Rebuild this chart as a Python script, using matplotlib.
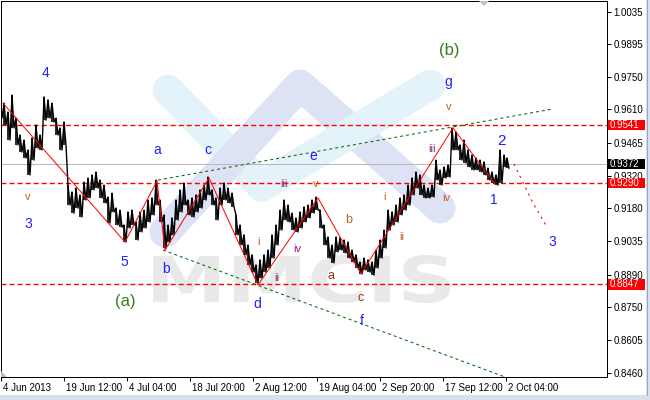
import matplotlib
matplotlib.use('Agg')
import matplotlib.pyplot as plt
import matplotlib.transforms as mtransforms
from matplotlib.patches import Rectangle, Polygon, PathPatch
from matplotlib.textpath import TextPath
from matplotlib.font_manager import FontProperties

plt.rcParams['font.family'] = ['Liberation Sans', 'DejaVu Sans']

# H4 bars, one bar per pixel column (sampled every 4 bars): high / low
bar_x = [0, 4, 8, 12, 16, 20, 24, 28, 32, 36, 40, 44, 48, 52, 56, 60, 64, 68, 72, 76,
         80, 84, 88, 92, 96, 100, 104, 108, 112, 116, 120, 124, 128, 132, 136, 140, 144, 148, 152, 156,
         160, 164, 168, 172, 176, 180, 184, 188, 192, 196, 200, 204, 208, 212, 216, 220, 224, 228, 232, 236,
         240, 244, 248, 252, 256, 260, 264, 268, 272, 276, 280, 284, 288, 292, 296, 300, 304, 308, 312, 316,
         320, 324, 328, 332, 336, 340, 344, 348, 352, 356, 360, 364, 368, 372, 376, 380, 384, 388, 392, 396,
         400, 404, 408, 412, 416, 420, 424, 428, 432, 436, 440, 444, 448, 452, 456, 460, 464, 468, 472, 476,
         480, 484, 488, 492, 496, 500, 504, 507]
bar_hi = [0.9651, 0.9637, 0.9598, 0.9672, 0.9572, 0.9498, 0.9476, 0.9433, 0.9485, 0.9542,
          0.9498, 0.9664, 0.9651, 0.9637, 0.9572, 0.9529, 0.9555, 0.9280, 0.9250, 0.9267,
          0.9237, 0.9293, 0.9311, 0.9324, 0.9337, 0.9302, 0.9280, 0.9228, 0.9245, 0.9180,
          0.9171, 0.9106, 0.9163, 0.9171, 0.9119, 0.9163, 0.9171, 0.9215, 0.9224, 0.9302,
          0.9215, 0.9150, 0.9106, 0.9137, 0.9215, 0.9259, 0.9289, 0.9215, 0.9224, 0.9237,
          0.9259, 0.9280, 0.9315, 0.9259, 0.9224, 0.9267, 0.9289, 0.9267, 0.9245, 0.9150,
          0.9106, 0.9063, 0.9019, 0.8976, 0.8932, 0.8954, 0.8976, 0.8997, 0.9063, 0.9106,
          0.9171, 0.9215, 0.9193, 0.9158, 0.9137, 0.9163, 0.9185, 0.9193, 0.9215, 0.9228,
          0.9171, 0.9106, 0.9054, 0.9019, 0.9054, 0.9050, 0.9041, 0.9032, 0.8997, 0.8976,
          0.8945, 0.8962, 0.8954, 0.8945, 0.8997, 0.9041, 0.9084, 0.9171, 0.9163, 0.9193,
          0.9224, 0.9237, 0.9280, 0.9311, 0.9337, 0.9324, 0.9280, 0.9267, 0.9280, 0.9389,
          0.9346, 0.9359, 0.9367, 0.9529, 0.9511, 0.9455, 0.9476, 0.9433, 0.9411, 0.9398,
          0.9389, 0.9381, 0.9354, 0.9337, 0.9324, 0.9433, 0.9411, 0.9398]
bar_lo = [0.9572, 0.9542, 0.9476, 0.9529, 0.9455, 0.9424, 0.9398, 0.9324, 0.9389, 0.9441,
          0.9433, 0.9563, 0.9572, 0.9555, 0.9498, 0.9433, 0.9455, 0.9193, 0.9158, 0.9180,
          0.9141, 0.9215, 0.9224, 0.9259, 0.9267, 0.9224, 0.9202, 0.9115, 0.9163, 0.9106,
          0.9097, 0.9032, 0.9093, 0.9106, 0.9041, 0.9076, 0.9093, 0.9119, 0.9150, 0.9193,
          0.9119, 0.9006, 0.9032, 0.9063, 0.9128, 0.9163, 0.9193, 0.9150, 0.9141, 0.9163,
          0.9180, 0.9215, 0.9237, 0.9193, 0.9128, 0.9193, 0.9215, 0.9202, 0.9185, 0.9063,
          0.9019, 0.8976, 0.8932, 0.8901, 0.8854, 0.8875, 0.8901, 0.8919, 0.8962, 0.9019,
          0.9084, 0.9128, 0.9119, 0.9084, 0.9076, 0.9093, 0.9119, 0.9137, 0.9158, 0.9171,
          0.9093, 0.9019, 0.8962, 0.8941, 0.8989, 0.8997, 0.8984, 0.8962, 0.8945, 0.8919,
          0.8893, 0.8910, 0.8901, 0.8888, 0.8919, 0.8962, 0.9006, 0.9084, 0.9106, 0.9119,
          0.9150, 0.9171, 0.9193, 0.9237, 0.9267, 0.9237, 0.9224, 0.9224, 0.9228, 0.9302,
          0.9280, 0.9311, 0.9315, 0.9433, 0.9433, 0.9389, 0.9376, 0.9359, 0.9346, 0.9346,
          0.9337, 0.9324, 0.9302, 0.9289, 0.9280, 0.9289, 0.9359, 0.9354]

# wave zigzag, forecast and trend lines
zz_x = [3, 125, 157, 165, 209, 258, 318, 361, 453, 495]
zz_p = [0.9637, 0.9032, 0.9298, 0.8997, 0.9311, 0.8845, 0.9224, 0.8893, 0.9529, 0.9285]
fc_x = [514, 533, 547]
fc_p = [0.9372, 0.9202, 0.9097]
up_x = [158, 552]
up_p = [0.9302, 0.9611]
lw_x = [163, 505]
lw_p = [0.8997, 0.8444]

levels = [0.9541, 0.9290, 0.8847]
last_price = 0.9372

yticks = [1.0035, 0.9895, 0.9750, 0.9610, 0.9465, 0.9320, 0.9180, 0.9035, 0.8890, 0.8750, 0.8605, 0.8460]
xticks = [1, 64, 127, 190, 253, 317, 380, 443, 506]
xlabels = ['4 Jun 2013', '19 Jun 12:00', '4 Jul 04:00', '18 Jul 20:00', '2 Aug 12:00',
           '19 Aug 04:00', '2 Sep 20:00', '17 Sep 12:00', '2 Oct 04:00']

BLUE = '#1f1fff'
GREEN = '#3a7a22'
ORANGE = '#c0641e'
PURPLE = '#8c2c78'
BROWN = '#99330a'
lbl_text = ['4', 'v', '3', '5', '(a)', 'a', 'b', 'c', 'e', 'd', 'f', 'g', '(b)',
            'iii', 'v', 'i', 'ii', 'iv', 'b', 'a', 'c', 'i', 'ii', 'iii', 'iv', 'v', '1', '2', '3']
lbl_x = [45, 28, 28, 124, 125, 157, 166, 208, 313, 257, 362, 448, 449,
         284, 316, 259, 277, 297, 349, 331, 361, 385, 402, 432, 446, 449, 494, 501, 552]
lbl_p = [0.9768, 0.9228, 0.9111, 0.8945, 0.8775, 0.9433, 0.8915, 0.9433, 0.9407, 0.8762, 0.8688, 0.9729, 0.9868,
         0.9285, 0.9285, 0.9032, 0.8875, 0.9002, 0.9128, 0.8884, 0.8788, 0.9228, 0.9054, 0.9437, 0.9224, 0.9620,
         0.9215, 0.9472, 0.9032]
lbl_color = [BLUE, ORANGE, BLUE, BLUE, GREEN, BLUE, BLUE, BLUE, BLUE, BLUE, BLUE, BLUE, GREEN,
             PURPLE, ORANGE, ORANGE, PURPLE, PURPLE, ORANGE, BROWN, BROWN, ORANGE, ORANGE, PURPLE, ORANGE, ORANGE,
             BLUE, BLUE, BLUE]
lbl_size = [10, 8, 10, 10, 12, 10, 10, 10, 10, 10, 10, 10, 12,
            8, 8, 8, 8, 8, 9, 9, 9, 8, 8, 8, 8, 8, 10, 11, 10]

PX = 0.72  # one pixel in points at dpi 100

fig = plt.figure(figsize=(6.5, 4), dpi=100)
fig.patch.set_facecolor('white')

# background layer in pixel coordinates (watermark, window frame)
bg = fig.add_axes([0, 0, 1, 1], zorder=0)
bg.set_xlim(0, 650)
bg.set_ylim(400, 0)
bg.axis('off')

LAV = '#dde2f4'
LB = '#e4f2fa'
bg.plot([168, 262], [90, 186], color=LB, lw=31 * PX, solid_capstyle='round')
bg.plot([165, 300, 440], [232, 85, 208], color=LAV, lw=31 * PX,
        solid_capstyle='round', solid_joinstyle='round')
bg.plot([262, 430], [186, 85], color=LB, lw=31 * PX, solid_capstyle='round')

tp = TextPath((0, 0), 'MMCIS', size=1, prop=FontProperties(family='DejaVu Sans', weight='bold'))
bb = tp.get_extents()
tt = mtransforms.Affine2D().translate(-bb.x0, -bb.y0).scale(297 / bb.width, -48 / bb.height).translate(153, 303)
bg.add_patch(PathPatch(tp, transform=tt + bg.transData, fc='#e9e9e9', ec='none'))

bg.add_patch(Rectangle((646, 0), 4, 400, fc='#d6e0ee', ec='none'))
bg.add_patch(Rectangle((0, 395), 650, 5, fc='#d6e0ee', ec='none'))
bg.plot([646.5, 646.5], [0, 395], color='#9aa8bc', lw=PX)

# main chart
ax = fig.add_axes([1 / 650, 23 / 400, 606 / 650, 376 / 400], zorder=1)
ax.patch.set_alpha(0)

for lv in levels:
    ax.axhline(lv, color='#ff0000', lw=1.0, ls=(0, (3.6, 2.2)), zorder=2)
ax.axhline(last_price, color='#b8b8b8', lw=PX, zorder=1.8)

ax.plot(up_x, up_p, color='#006400', lw=PX, ls=(0, (3, 3)), zorder=2)
ax.plot(lw_x, lw_p, color='#006400', lw=PX, ls=(0, (3, 3)), zorder=2)

sx, sy = [], []
for x, h, l in zip(bar_x, bar_hi, bar_lo):
    sx += [x, x + 2]
    sy += [h, l]
ax.plot(sx, sy, color='black', lw=1.0, zorder=3)
ax.vlines(bar_x, bar_lo, bar_hi, color='black', lw=1.2, zorder=3)

ax.plot(zz_x, zz_p, color='red', lw=PX, zorder=4)
ax.plot(fc_x, fc_p, color='red', lw=PX * 1.1, ls=(0, (2, 4)), zorder=4)

for s, x, p, c, fs in zip(lbl_text, lbl_x, lbl_p, lbl_color, lbl_size):
    ax.text(x, p, s, color=c, fontsize=fs, ha='center', va='center', zorder=5)

ax.yaxis.tick_right()
ax.set_yticks(yticks)
ax.set_yticklabels(['%.4f' % v for v in yticks])
ax.set_xticks(xticks)
ax.set_xticklabels(xlabels)
ax.tick_params(axis='both', direction='out', length=3, width=PX, labelsize=7, pad=1.5)
shift = mtransforms.ScaledTranslation(2 / 100, 0, fig.dpi_scale_trans)
for lab in ax.get_xticklabels():
    lab.set_horizontalalignment('left')
    lab.set_transform(lab.get_transform() + shift)
for sp in ax.spines.values():
    sp.set_linewidth(PX)
    sp.set_color('black')

# price boxes on the right scale
trans = mtransforms.blended_transform_factory(bg.transData, ax.transData)
box_vals = levels + [last_price]
box_cols = ['red', 'red', 'red', 'black']
for v, c in zip(box_vals, box_cols):
    ax.add_patch(Rectangle((608, v - 0.0022), 37, 0.0044, transform=trans, fc=c, ec='none',
                           clip_on=False, zorder=6))
    ax.text(610, v, '%.4f' % v, transform=trans, color='white', fontsize=7,
            ha='left', va='center', clip_on=False, zorder=7)

# chart shift markers
ax.add_patch(Polygon([(1, 371), (1, 377), (7, 377)], closed=True, transform=bg.transData,
                     fc='#c0c0c0', ec='none', clip_on=False, zorder=6))
ax.add_patch(Polygon([(479, 1), (489, 1), (484, 6)], closed=True, transform=bg.transData,
                     fc='#c0c0c0', ec='none', clip_on=False, zorder=6))

ax.set_xlim(1, 607)
ax.set_ylim(0.8444, 1.0082)

fig.savefig('out.png', dpi=100)
